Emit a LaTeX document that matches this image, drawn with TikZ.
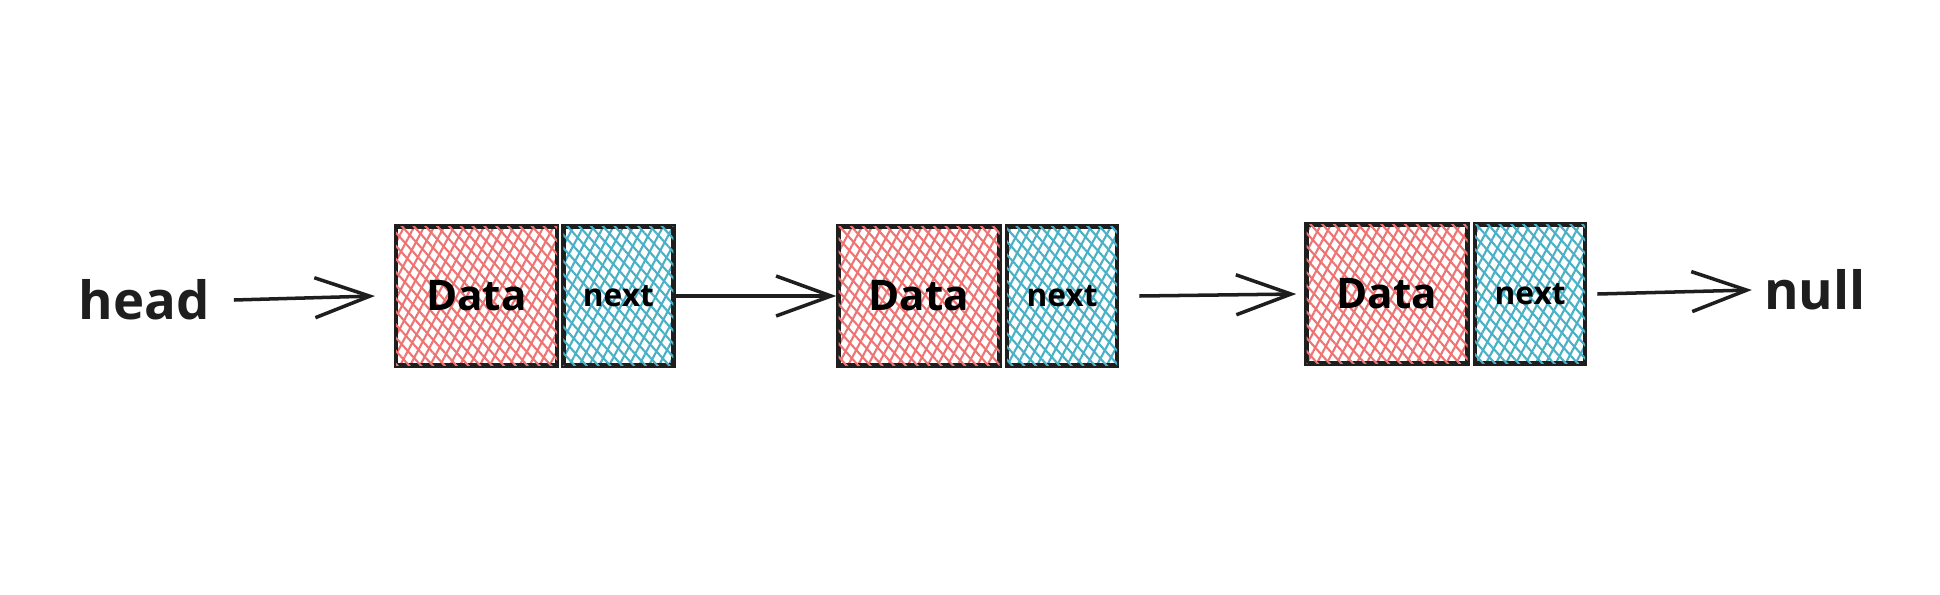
\documentclass[tikz,border=0pt]{standalone}
\usepackage{fontspec}
\setmainfont{Open Sans}
\usepackage{xcolor}
\usepackage{tikz}
\usetikzlibrary{arrows.meta,positioning,patterns.meta}
\definecolor{rojo}{HTML}{EE7474}
\definecolor{cian}{HTML}{4AB0C6}
\definecolor{tinta}{HTML}{1E1E1E}

\begin{document}
\begin{tikzpicture}[
  dato/.style={draw=tinta,line width=1.3pt,minimum width=1.61cm,minimum height=1.39cm,inner sep=0pt,
    pattern={Lines[angle=62,distance=2.5pt,line width=0.6pt]},pattern color=rojo,
    postaction={pattern={Lines[angle=-48,distance=2.5pt,line width=0.6pt]},pattern color=rojo},
    font=\fontsize{12}{14}\selectfont\bfseries},
  sig/.style={draw=tinta,line width=1.3pt,minimum width=1.10cm,minimum height=1.39cm,inner sep=0pt,
    pattern={Lines[angle=62,distance=2.5pt,line width=0.6pt]},pattern color=cian,
    postaction={pattern={Lines[angle=-48,distance=2.5pt,line width=0.6pt]},pattern color=cian},
    font=\fontsize{9}{11}\selectfont\bfseries},
  txt/.style={font=\fontsize{15}{18}\selectfont\bfseries,text=tinta},
  flecha/.style={-{Straight Barb[length=5.5mm,width=4mm]},line width=1pt,tinta}]
\useasboundingbox (0,0) rectangle (19.4,5.94);
\node[txt] (head) at (1.44,2.94) {head};
\node[dato] (d1) at (4.765,2.98) {Data};
\node[sig,right=0.03cm of d1] (n1) {next};
\node[dato] (d2) at (9.19,2.98) {Data};
\node[sig,right=0.03cm of d2] (n2) {next};
\node[dato] (d3) at (13.87,3.0) {Data};
\node[sig,right=0.03cm of d3] (n3) {next};
\node[txt] (null) at (18.15,3.04) {null};
\draw[flecha] ([xshift=0.12cm]head.east) -- ([xshift=-0.2cm]d1.west);
\draw[flecha] (n1.east) -- (d2.west);
\draw[flecha] ([xshift=0.2cm]n2.east) -- ([xshift=-0.08cm]d3.west);
\draw[flecha] ([xshift=0.1cm]n3.east) -- (null.west);
\end{tikzpicture}
\end{document}
